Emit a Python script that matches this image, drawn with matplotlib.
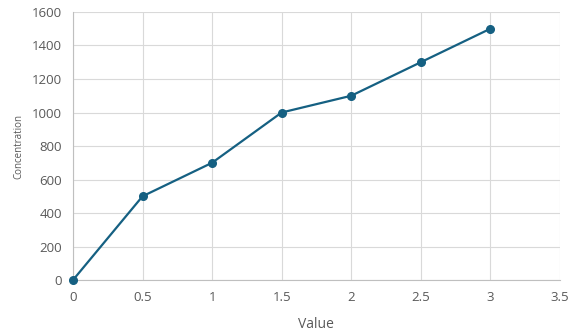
import matplotlib.pyplot as plt

values = [0, 0.5, 1, 1.5, 2, 2.5, 3]
concentration = [0, 500, 700, 1000, 1100, 1300, 1500]
x_ticks = [0, 0.5, 1, 1.5, 2, 2.5, 3, 3.5]
x_labels = ['0', '0.5', '1', '1.5', '2', '2.5', '3', '3.5']
y_ticks = [0, 200, 400, 600, 800, 1000, 1200, 1400, 1600]

plt.rcParams['font.family'] = ['Open Sans', 'DejaVu Sans']

fig = plt.figure(figsize=(5.81, 3.33), dpi=100)
ax = fig.add_axes([0.1256, 0.159, 0.838, 0.805])

line_color = '#156082'
ax.plot(values, concentration, color=line_color, linewidth=1.6,
        marker='o', markersize=5.5, zorder=3, clip_on=False)

ax.set_xlim(0, 3.5)
ax.set_ylim(0, 1600)
ax.set_xticks(x_ticks)
ax.set_xticklabels(x_labels)
ax.set_yticks(y_ticks)

ax.grid(True, color='#d9d9d9', linewidth=0.8)
ax.set_axisbelow(True)
for side in ['top', 'right']:
    ax.spines[side].set_visible(False)
for side in ['left', 'bottom']:
    ax.spines[side].set_color('#bfbfbf')
    ax.spines[side].set_linewidth(0.8)

ax.tick_params(length=0, labelsize=9.5, colors='#595959', pad=8)
ax.set_xlabel('Value', fontsize=10, color='#595959', labelpad=9)
ax.set_ylabel('Concentration', fontsize=7, color='#595959', labelpad=5)

fig.savefig('out.png', dpi=100)
